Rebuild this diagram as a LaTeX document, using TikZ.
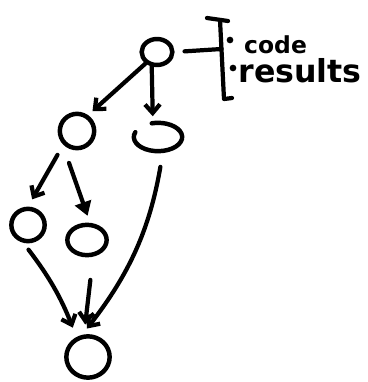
\documentclass[tikz,border=0pt]{standalone}
\usepackage{fontspec}
\setmainfont{DejaVu Sans}
\usetikzlibrary{shapes.geometric, arrows.meta}

\begin{document}
\begin{tikzpicture}[
        blob/.style={
            ellipse, draw, line width=3.8pt, inner sep=0pt
        },
        note/.style={
            font=\fontsize{20}{20}\selectfont\bfseries,
            anchor=base west, inner sep=0pt
        },
        pen/.style={line width=3.6pt, line cap=round, line join=round},
        rel/.style={pen, -{Straight Barb[length=0.26cm, width=0.45cm]}},
        fillrel/.style={pen, -{Triangle[length=0.42cm, width=0.5cm]}}
    ]
        \useasboundingbox (0,0) rectangle (11.04,-11.46);

        \node[blob, minimum width=0.92cm, minimum height=0.78cm] (top) at (4.71,-1.56) {};
        \node[blob, minimum width=1.03cm, minimum height=1.03cm] (a) at (2.31,-3.93) {};
        \node[ellipse, inner sep=0pt, minimum width=1.45cm, minimum height=0.85cm] (b) at (4.74,-4.11) {};
        \node[blob, minimum width=1.0cm, minimum height=0.97cm] (c) at (0.84,-6.75) {};
        \node[blob, minimum width=1.18cm, minimum height=0.91cm] (d) at (2.61,-7.2) {};
        \node[blob, minimum width=1.3cm, minimum height=1.24cm] (e) at (2.64,-10.71) {};

        % open ring
        \draw[pen, line width=3.8pt] ([shift={(160:0.725cm and 0.425cm)}]b.center)
            arc[start angle=160, end angle=465, x radius=0.725cm, y radius=0.425cm];

        \draw[rel, shorten >=5pt] (top.225) -- (a.55);
        \draw[rel, shorten >=0.2cm] (top.250) -- (b.110);
        \draw[rel, shorten <=0.35cm, shorten >=0.25cm] (a.225) -- (c.90);
        \draw[fillrel, shorten <=0.62cm, shorten >=0.22cm] (a.220) -- (d.80);
        \draw[rel, shorten <=0.48cm, shorten >=0.24cm] (b.290) to[bend left=14] (e.105);
        \draw[rel, shorten <=0.26cm, shorten >=0.3cm] (c.255) to[bend left=8] (e.120);
        \draw[rel, shorten <=0.7cm, shorten >=0.3cm] (d.290) -- (e.100);

        % bracket with the notes
        \coordinate (brk) at (6.645,-1.47);
        \draw[pen, shorten <=0.3cm] (top.east) -- (brk);
        \draw[pen] (6.21,-0.54) -- (6.84,-0.63);
        \draw[pen] (6.6,-0.6) -- (6.72,-2.97) -- (6.96,-2.94);
        \fill (6.9,-1.2) circle (0.1);
        \fill (6.99,-2.04) circle (0.1);
        \node[note] (code) at (7.32,-1.59) {code};
        \node[note, font=\fontsize{27}{27}\selectfont\bfseries] (results) at (7.15,-2.46) {results};
    \end{tikzpicture}
\end{document}
